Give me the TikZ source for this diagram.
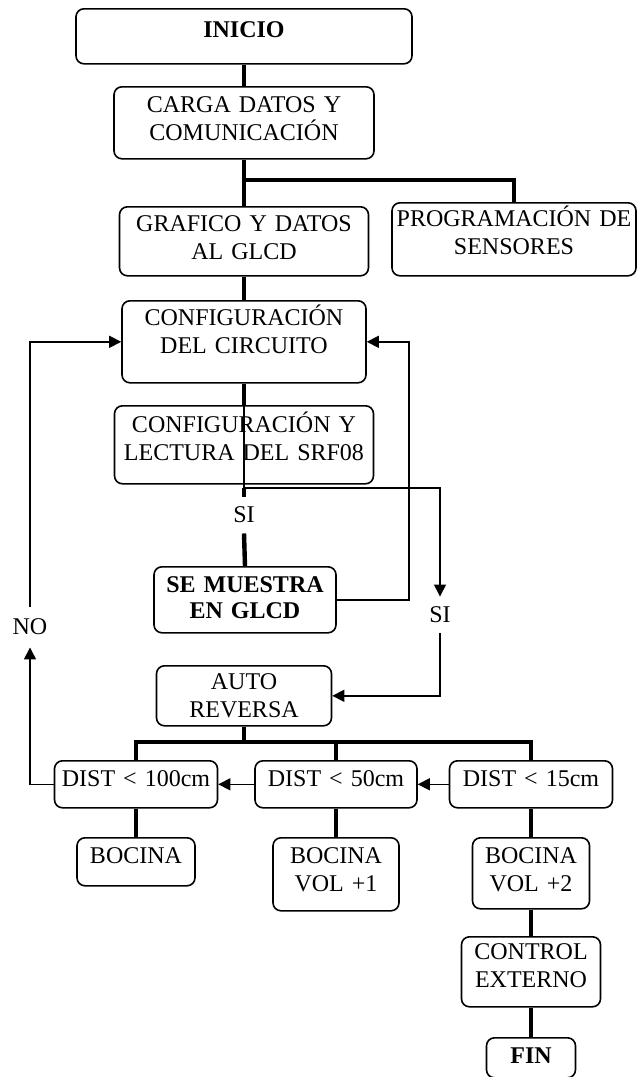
\documentclass[tikz,border=0pt]{standalone}
\usepackage{fontspec}
\setmainfont{Liberation Serif}
\usetikzlibrary{arrows.meta}

\begin{document}
\begin{tikzpicture}[
      x=0.5pt, y=-0.5pt,
      box/.style={draw, line width=0.8pt, rounded corners=4pt, anchor=north, align=center, inner sep=0pt, font=\fontsize{12}{14}\selectfont},
      lbl/.style={inner sep=5pt, font=\fontsize{12}{14}\selectfont},
      trunk/.style={line width=2.2pt},
      wire/.style={line width=0.75pt},
      >={Triangle[length=6pt,width=6pt]}
    ]
    \useasboundingbox (0,0) rectangle (637,1077);
    \node[box, font=\fontsize{12}{14}\selectfont\bfseries, text width=168pt, text height=14.5pt, text depth=13pt] (inicio) at (244,8) {INICIO};
    \node[box, text width=130pt, text height=13pt, text depth=23pt] (carga) at (244,86) {CARGA DATOS Y\\COMUNICACIÓN};
    \node[box, text width=124.5pt, text height=12.5pt, text depth=22pt] (grafico) at (244,206) {GRAFICO Y DATOS\\AL GLCD};
    \node[box, text width=122pt, text height=12pt, text depth=24.5pt] (prog) at (514,202) {PROGRAMACIÓN DE\\SENSORES};
    \node[box, text width=122pt, text height=12.5pt, text depth=28.5pt] (config) at (244,300) {CONFIGURACIÓN\\DEL CIRCUITO};
    \node[box, text width=129.5pt, text height=13.5pt, text depth=25.5pt] (cfgy) at (244,405) {CONFIGURACIÓN Y\\LECTURA DEL SRF08};
    \node[box, font=\fontsize{12}{13}\selectfont\bfseries, text width=91pt, text height=13pt, text depth=20pt] (muestra) at (245,566) {SE MUESTRA\\EN GLCD};
    \node[box, text width=87.5pt, text height=12pt, text depth=18pt] (auto) at (244,665) {AUTO\\REVERSA};
    \node[box, text width=81.5pt, text height=13pt, text depth=10.5pt] (d100) at (136,760) {DIST < 100cm};
    \node[box, text width=81pt, text height=13pt, text depth=10.5pt] (d50) at (336,760) {DIST < 50cm};
    \node[box, text width=81.5pt, text height=13pt, text depth=10.5pt] (d15) at (531,760) {DIST < 15cm};
    \node[box, text width=59pt, text height=13pt, text depth=11pt] (boc) at (136,837) {BOCINA};
    \node[box, text width=63pt, text height=13pt, text depth=23.5pt] (boc1) at (336,837) {BOCINA\\VOL +1};
    \node[box, text width=58.5pt, text height=13pt, text depth=22.5pt] (boc2) at (531,837) {BOCINA\\VOL +2};
    \node[box, text width=69.5pt, text height=11.5pt, text depth=23.5pt] (control) at (531,936) {CONTROL\\EXTERNO};
    \node[box, font=\fontsize{12}{14}\selectfont\bfseries, text width=44.5pt, text height=13pt, text depth=7pt] (fin) at (531,1037) {FIN};

    \node[lbl] (si1) at (244,515) {SI};
    \node[lbl] (si2) at (440,615) {SI};
    \node[lbl, inner sep=6pt] (no) at (30,627) {NO};
    \coordinate (junc) at (244,180);
    \coordinate (split) at (244,488);
    \coordinate (bus) at (244,742);

    \draw[trunk] (inicio.south) -- (carga.north);
    \draw[trunk] (carga.south) -- (grafico.north);
    \draw[trunk] (junc) -| (prog.north);
    \draw[trunk] (grafico.south) -- (config.north);
    \draw[trunk] (config.south) -- (cfgy.north);
    \draw[wire] (cfgy.north) -- (split);
    \draw[wire, ->] (split) -| (si2.north);
    \draw[trunk] (split) -- (si1.north);
    \draw[trunk] (si1.south) -- (muestra.north);
    \draw[wire, ->] (muestra.east) -- ++(72,0) |- (config.east);
    \draw[wire, ->] (si2.south) |- (auto.east);
    \draw[trunk] (auto.south) -- (bus);
    \draw[trunk] (d100.north) |- (bus) -| (d15.north);
    \draw[trunk] (d50.north) -- (d50.north |- bus);
    \draw[wire, ->] (d15.west) -- (d50.east);
    \draw[wire, ->] (d50.west) -- (d100.east);
    \draw[wire, ->] (d100.west) -| (no.south);
    \draw[wire, ->] (no.north) |- (config.west);
    \draw[trunk] (d100.south) -- (boc.north);
    \draw[trunk] (d50.south) -- (boc1.north);
    \draw[trunk] (d15.south) -- (boc2.north);
    \draw[trunk] (boc2.south) -- (control.north);
    \draw[trunk] (control.south) -- (fin.north);
  \end{tikzpicture}
\end{document}
